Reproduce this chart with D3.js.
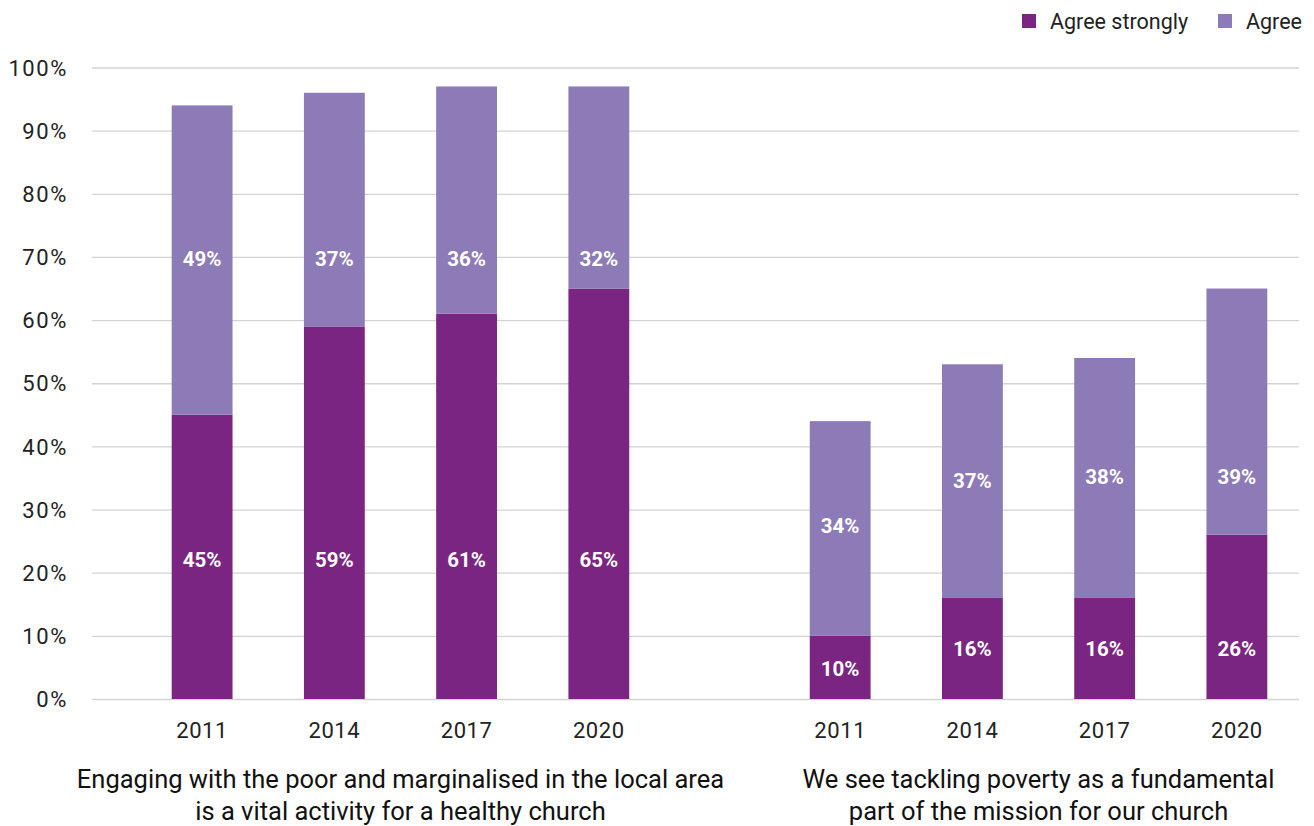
<!DOCTYPE html>
<html>
<head>
<meta charset="utf-8">
<script src="https://cdn.jsdelivr.net/npm/d3@7"></script>
<style>
  body { margin: 0; background: #fff; }
  svg text { font-family: Roboto, "Liberation Sans", sans-serif; }
</style>
</head>
<body>
<div id="wrapper"></div>
<script>
// statements (x groups) and survey years
const statements = [
    ["Engaging with the poor and marginalised in the local area", "is a vital activity for a healthy church"],
    ["We see tackling poverty as a fundamental", "part of the mission for our church"]
];
const years = ["2011", "2014", "2017", "2020"];
const seriesNames = ["Agree strongly", "Agree"];

// values in %, per statement, per year
const agreeStrongly = [[45, 59, 61, 65], [10, 16, 16, 26]];
const agree = [[49, 37, 36, 32], [34, 37, 38, 39]];

// where the data labels sit (in % units)
const strongLabelAt = [[22, 22, 22, 22], [4.8, 7.9, 7.9, 7.9]];
const agreeLabelAt = [[69.7, 69.7, 69.7, 69.7], [27.4, 34.5, 35.2, 35.2]];

const yTicks = [0, 10, 20, 30, 40, 50, 60, 70, 80, 90, 100];

async function buildPlot() {
    const dimension = { width: 1314, height: 826 };
    const colors = { strong: "#7a2581", agree: "#8d7bb7" };

    const svg = d3.select("#wrapper").append("svg")
        .attr("width", dimension.width)
        .attr("height", dimension.height);

    const yScaler = d3.scaleLinear().domain([0, 100]).range([699, 67.5]);

    const x0 = d3.scaleBand()
        .domain(d3.range(statements.length))
        .range([136, 1303])
        .paddingInner(0.171);

    const x1 = d3.scaleBand()
        .domain(years)
        .range([0, x0.bandwidth()])
        .paddingInner(0.54)
        .paddingOuter(0.27);

    // gridlines + y labels
    const yAxisGenerator = d3.axisLeft(yScaler)
        .tickValues(yTicks)
        .tickSize(-(1299 - 92))
        .tickFormat(d => d + "%");
    const yAxis = svg.append("g")
        .attr("transform", "translate(92,0)")
        .call(yAxisGenerator);
    yAxis.select(".domain").remove();
    yAxis.selectAll(".tick line").attr("stroke", "#d3d3d3").attr("stroke-width", 1.3);
    yAxis.selectAll(".tick text")
        .attr("x", -24)
        .attr("dy", "0.35em")
        .attr("fill", "#222")
        .style("font-size", "22px")
        .style("letter-spacing", "1.6px")
        .style("font-family", "Roboto, sans-serif");

    const groups = svg.selectAll(".grp")
        .data(statements)
        .join("g")
        .attr("class", "grp")
        .attr("transform", (d, i) => `translate(${x0(i)},0)`);

    groups.each(function (title, gi) {
        const g = d3.select(this);
        const rows = years.map((yr, j) => ({
            yr,
            s: agreeStrongly[gi][j],
            a: agree[gi][j],
            sl: strongLabelAt[gi][j],
            al: agreeLabelAt[gi][j]
        }));

        g.selectAll(".strong").data(rows).join("rect")
            .attr("x", d => x1(d.yr))
            .attr("width", x1.bandwidth())
            .attr("y", d => yScaler(d.s))
            .attr("height", d => yScaler(0) - yScaler(d.s))
            .attr("fill", colors.strong);

        g.selectAll(".agree").data(rows).join("rect")
            .attr("x", d => x1(d.yr))
            .attr("width", x1.bandwidth())
            .attr("y", d => yScaler(d.s + d.a))
            .attr("height", d => yScaler(d.s) - yScaler(d.s + d.a))
            .attr("fill", colors.agree);

        // data labels
        g.selectAll(".lblS").data(rows).join("text")
            .attr("x", d => x1(d.yr) + x1.bandwidth() / 2)
            .attr("y", d => yScaler(d.sl))
            .attr("dy", "0.35em")
            .attr("text-anchor", "middle")
            .attr("fill", "#fff")
            .style("font-size", "20.5px")
            .style("font-weight", "bold")
            .text(d => d.s + "%");

        g.selectAll(".lblA").data(rows).join("text")
            .attr("x", d => x1(d.yr) + x1.bandwidth() / 2)
            .attr("y", d => yScaler(d.al))
            .attr("dy", "0.35em")
            .attr("text-anchor", "middle")
            .attr("fill", "#fff")
            .style("font-size", "20.5px")
            .style("font-weight", "bold")
            .text(d => d.a + "%");

        // year axis
        const xAxis = g.append("g")
            .attr("transform", "translate(0,699)")
            .call(d3.axisBottom(x1).tickSize(0).tickPadding(23));
        xAxis.select(".domain").remove();
        xAxis.selectAll("text")
            .attr("fill", "#222")
            .style("font-size", "22px")
            .style("letter-spacing", "0.6px")
            .style("font-family", "Roboto, sans-serif");

        // statement title
        g.append("text")
            .attr("x", x0.bandwidth() / 2)
            .attr("y", 788)
            .attr("text-anchor", "middle")
            .attr("fill", "#111")
            .style("font-size", "25.5px")
            .selectAll("tspan")
            .data(title)
            .join("tspan")
            .attr("x", x0.bandwidth() / 2)
            .attr("dy", (d, k) => k === 0 ? 0 : 32)
            .text(d => d);
    });

    // legend
    const legendX = [1022, 1218];
    const legend = svg.append("g");
    seriesNames.forEach((name, i) => {
        legend.append("rect")
            .attr("x", legendX[i])
            .attr("y", 14)
            .attr("width", 14)
            .attr("height", 14)
            .attr("fill", i === 0 ? colors.strong : colors.agree);
        legend.append("text")
            .attr("x", legendX[i] + 28)
            .attr("y", 29)
            .attr("fill", "#222")
            .style("font-size", "21.5px")
            .text(name);
    });
}

buildPlot();
</script>
</body>
</html>
